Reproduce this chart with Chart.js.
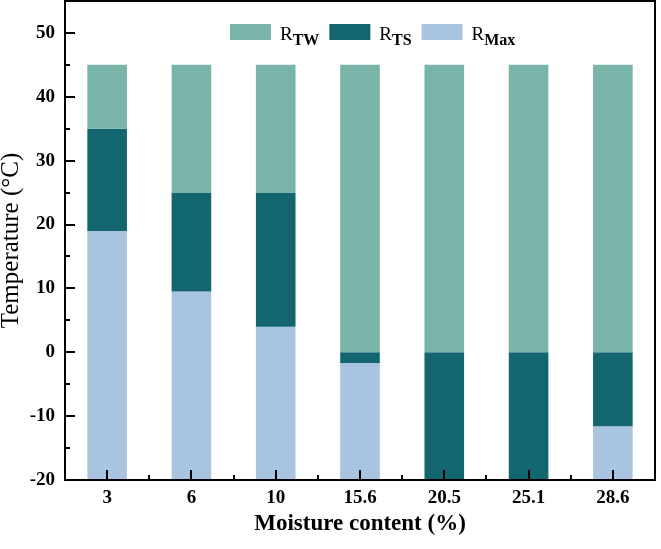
<!DOCTYPE html>
<html><head><meta charset="utf-8">
<script src="https://cdn.jsdelivr.net/npm/chart.js@4"></script>
<style>html,body{margin:0;padding:0;background:#fff}#wrap{width:661px;height:549px;position:relative}</style>
</head><body><div id="wrap"><canvas id="c" width="661" height="549"></canvas></div>
<script>
// ---- data ----
const categories = ['3', '6', '10', '15.6', '20.5', '25.1', '28.6'];
const rMaxTop = [19, 9.5, 4, -1.7, -20, -20, -11.6];
const rTsTop = [35, 25, 25, 0, 0, 0, 0];
const rTwTop = [45, 45, 45, 45, 45, 45, 45];
const barBottom = -20;
const yTickValues = [-20, -10, 0, 10, 20, 30, 40, 50];
const seriesBase = ['R', 'R', 'R'];
const seriesSub = ['TW', 'TS', 'Max'];

const colors = ['#79b4a9', '#13656f', '#a9c4e0'];
const FONT = "'Liberation Serif', 'Times New Roman', serif";

const rMaxData = categories.map((c, i) => [barBottom, rMaxTop[i]]);
const rTsData = categories.map((c, i) => [rMaxTop[i], rTsTop[i]]);
const rTwData = categories.map((c, i) => [rTsTop[i], rTwTop[i]]);

const framePlugin = {
  id: 'frame',
  afterDatasetsDraw(chart) {
    const {ctx, chartArea: a, scales} = chart;
    ctx.save();
    ctx.strokeStyle = '#000';
    ctx.lineWidth = 2;
    const ys = scales.y;
    for (let v = -20; v <= 50; v += 5) {
      const py = Math.round(ys.getPixelForValue(v));
      const len = (v % 10 === 0) ? 10 : 5;
      ctx.beginPath(); ctx.moveTo(a.left, py); ctx.lineTo(a.left + len, py); ctx.stroke();
    }
    const xs = scales.x;
    for (let i = 0; i < categories.length; i++) {
      const px = Math.round(xs.getPixelForValue(i));
      ctx.beginPath(); ctx.moveTo(px, a.bottom); ctx.lineTo(px, a.bottom - 10); ctx.stroke();
      if (i > 0) {
        const pm = Math.round((xs.getPixelForValue(i) + xs.getPixelForValue(i - 1)) / 2);
        ctx.beginPath(); ctx.moveTo(pm, a.bottom); ctx.lineTo(pm, a.bottom - 5); ctx.stroke();
      }
    }
    ctx.strokeRect(a.left, a.top, a.right - a.left, a.bottom - a.top);
    ctx.restore();
  }
};

const legendPlugin = {
  id: 'subLegend',
  afterDraw(chart) {
    const {ctx, chartArea: a} = chart;
    ctx.save();
    let x = a.left + 165;
    const boxY = 24, boxW = 41, boxH = 16;
    [0, 1, 2].forEach(k => {
      ctx.fillStyle = colors[k];
      ctx.fillRect(x, boxY, boxW, boxH);
      x += boxW + 9;
      ctx.fillStyle = '#000';
      ctx.textBaseline = 'alphabetic';
      ctx.textAlign = 'left';
      ctx.font = "19px " + FONT;
      ctx.fillText(seriesBase[k], x, 40);
      x += ctx.measureText(seriesBase[k]).width;
      ctx.font = "bold 16px " + FONT;
      ctx.fillText(seriesSub[k], x, 45);
      x += ctx.measureText(seriesSub[k]).width + 10;
    });
    ctx.restore();
  }
};

new Chart(document.getElementById('c'), {
  type: 'bar',
  data: {
    labels: categories,
    datasets: [
      {label: 'R_TW', data: rTwData, backgroundColor: colors[0], borderWidth: 0},
      {label: 'R_TS', data: rTsData, backgroundColor: colors[1], borderWidth: 0},
      {label: 'R_Max', data: rMaxData, backgroundColor: colors[2], borderWidth: 0}
    ]
  },
  options: {
    responsive: false,
    animation: false,
    layout: {padding: {top: 1, right: 6, left: 0, bottom: 0}},
    datasets: {bar: {barPercentage: 0.47, categoryPercentage: 1}},
    plugins: {legend: {display: false}, tooltip: {enabled: false}},
    scales: {
      x: {
        stacked: true,
        offset: true,
        grid: {display: false, drawTicks: false},
        border: {display: false},
        ticks: {color: '#000', padding: 7, font: {family: FONT, size: 19, weight: 'bold'}},
        title: {display: true, text: 'Moisture content (%)', color: '#000',
          font: {family: FONT, size: 23, weight: 'bold', lineHeight: 1}, padding: {top: 0, bottom: 13}},
        afterFit: s => { s.height = 69; s.paddingLeft = 0; s.paddingRight = 0; }
      },
      y: {
        stacked: false,
        min: -20, max: 55,
        grid: {display: false, drawTicks: false},
        border: {display: false},
        afterBuildTicks: s => { s.ticks = yTickValues.map(v => ({value: v})); },
        ticks: {color: '#000', padding: 10, font: {family: FONT, size: 19, weight: 'bold'}},
        title: {display: true, text: 'Temperature (°C)', color: '#000',
          font: {family: FONT, size: 25, weight: 'normal', lineHeight: 1}, padding: {top: -1, bottom: 0}},
        afterFit: s => { s.width = 65; s.paddingTop = 0; s.paddingBottom = 0; }
      }
    }
  },
  plugins: [framePlugin, legendPlugin]
});
</script></body></html>
